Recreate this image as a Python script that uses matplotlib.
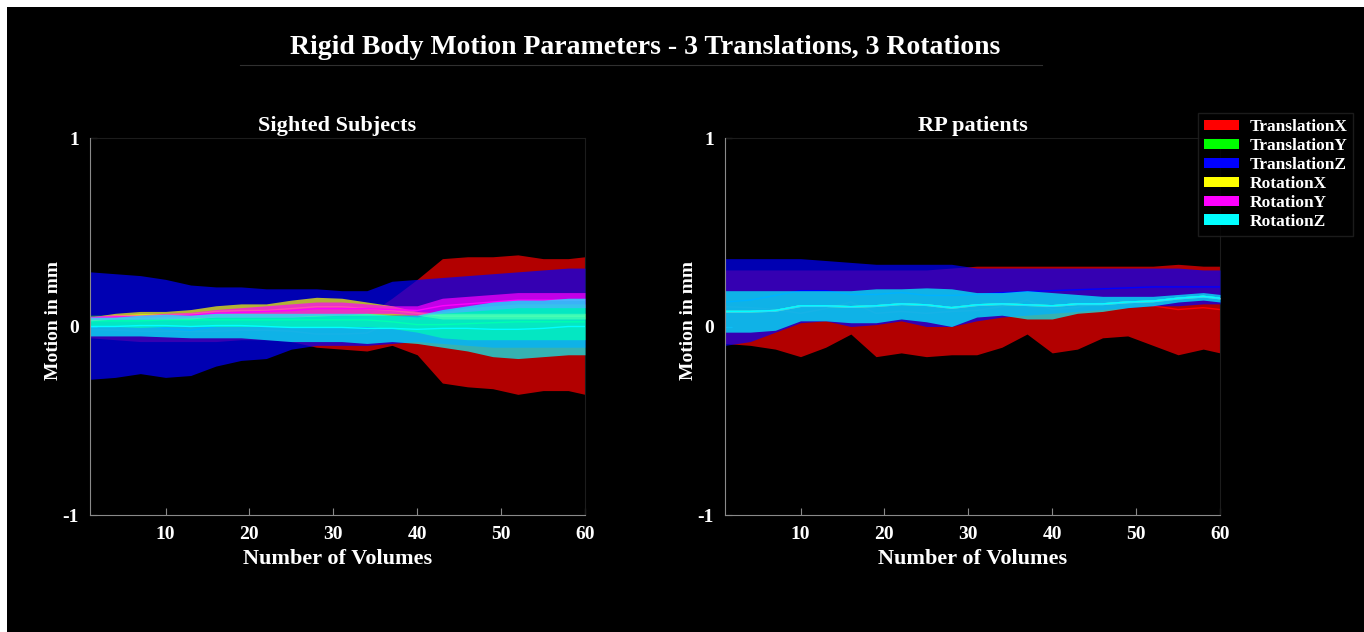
import matplotlib
matplotlib.use("Agg")
import matplotlib.pyplot as plt
from matplotlib.patches import Patch, Rectangle
from matplotlib.lines import Line2D

vols = [1, 4, 7, 10, 13, 16, 19, 22, 25, 28, 31, 34, 37, 40, 43, 46, 49, 52, 55, 58, 60]

param_names = ["TranslationX", "TranslationY", "TranslationZ",
               "RotationX", "RotationY", "RotationZ"]
param_colors = ["#ff0000", "#00ff00", "#0000ff", "#ffff00", "#ff00ff", "#00ffff"]
# order the bands were layered in (TranslationZ sits under TranslationY)
draw_order = [0, 2, 1, 3, 4, 5]

# Sighted subjects: mean and sd per volume
sighted_tx_mean = [-0.015, -0.02, -0.025, -0.025, -0.025, -0.025, -0.02, -0.02, -0.025, -0.04, -0.04,
                   -0.035, 0.025, 0.05, 0.03, 0.025, 0.02, 0.01, 0.01, 0.01, 0.005]
sighted_tx_sd = [0.045, 0.05, 0.055, 0.055, 0.055, 0.055, 0.05, 0.05, 0.055, 0.07, 0.08,
                 0.095, 0.125, 0.2, 0.33, 0.345, 0.35, 0.37, 0.35, 0.35, 0.365]
sighted_ty_mean = [0.03, 0.03, 0.03, 0.035, 0.035, 0.035, 0.035, 0.035, 0.035, 0.035, 0.035,
                   0.035, 0.025, 0.01, 0.01, 0.015, 0.02, 0.025, 0.025, 0.025, 0.025]
sighted_ty_sd = [0.03, 0.03, 0.035, 0.035, 0.035, 0.035, 0.035, 0.035, 0.035, 0.035, 0.035,
                 0.035, 0.035, 0.04, 0.07, 0.085, 0.09, 0.095, 0.095, 0.095, 0.095]
sighted_tz_mean = [0.005, 0.005, 0.01, -0.01, -0.02, 0.0, 0.015, 0.015, 0.04, 0.05, 0.045,
                   0.045, 0.075, 0.085, 0.085, 0.085, 0.085, 0.09, 0.095, 0.10, 0.10]
sighted_tz_sd = [0.285, 0.275, 0.26, 0.26, 0.24, 0.21, 0.195, 0.185, 0.16, 0.15, 0.145,
                 0.145, 0.165, 0.165, 0.175, 0.185, 0.195, 0.20, 0.205, 0.21, 0.21]
sighted_rx_mean = [0.04, 0.055, 0.06, 0.06, 0.065, 0.08, 0.085, 0.085, 0.095, 0.105, 0.105,
                   0.095, 0.085, 0.07, 0.055, 0.055, 0.055, 0.055, 0.055, 0.055, 0.055]
sighted_rx_sd = [0.01, 0.015, 0.02, 0.02, 0.025, 0.03, 0.035, 0.035, 0.045, 0.05, 0.045,
                 0.035, 0.025, 0.01, 0.015, 0.015, 0.015, 0.015, 0.015, 0.015, 0.015]
sighted_ry_mean = [0.045, 0.05, 0.05, 0.055, 0.06, 0.07, 0.075, 0.08, 0.085, 0.095, 0.095,
                   0.095, 0.09, 0.085, 0.11, 0.12, 0.13, 0.14, 0.14, 0.14, 0.14]
sighted_ry_sd = [0.01, 0.012, 0.012, 0.015, 0.015, 0.02, 0.025, 0.03, 0.035, 0.035, 0.035,
                 0.025, 0.02, 0.025, 0.04, 0.04, 0.04, 0.04, 0.04, 0.04, 0.04]
sighted_rz_mean = [0.0, 0.0, 0.005, 0.005, 0.0, 0.005, 0.005, 0.0, -0.005, -0.005, -0.005,
                   -0.01, -0.01, -0.015, -0.01, -0.01, -0.015, -0.015, -0.01, 0.0, 0.0]
sighted_rz_sd = [0.05, 0.05, 0.055, 0.06, 0.06, 0.065, 0.065, 0.07, 0.075, 0.075, 0.075,
                 0.08, 0.07, 0.075, 0.10, 0.12, 0.145, 0.155, 0.15, 0.15, 0.15]

# RP patients: mean and sd per volume
rp_tx_mean = [0.105, 0.10, 0.09, 0.07, 0.095, 0.13, 0.07, 0.08, 0.07, 0.08, 0.085,
              0.105, 0.14, 0.09, 0.10, 0.13, 0.135, 0.11, 0.09, 0.10, 0.09]
rp_tx_sd = [0.195, 0.20, 0.21, 0.23, 0.205, 0.17, 0.23, 0.22, 0.23, 0.23, 0.235,
            0.215, 0.18, 0.23, 0.22, 0.19, 0.185, 0.21, 0.24, 0.22, 0.23]
rp_ty_mean = [0.08, 0.08, 0.085, 0.11, 0.11, 0.105, 0.11, 0.12, 0.115, 0.10, 0.115,
              0.12, 0.115, 0.11, 0.12, 0.12, 0.13, 0.135, 0.15, 0.16, 0.15]
rp_ty_sd = [0.004, 0.004, 0.004, 0.004, 0.004, 0.004, 0.004, 0.004, 0.004, 0.004, 0.004,
            0.004, 0.004, 0.004, 0.004, 0.004, 0.004, 0.004, 0.004, 0.004, 0.004]
rp_tz_mean = [0.13, 0.14, 0.165, 0.19, 0.19, 0.17, 0.17, 0.18, 0.165, 0.165, 0.17,
              0.18, 0.185, 0.19, 0.195, 0.20, 0.205, 0.21, 0.21, 0.21, 0.21]
rp_tz_sd = [0.23, 0.22, 0.195, 0.17, 0.16, 0.17, 0.16, 0.15, 0.165, 0.165, 0.14,
            0.13, 0.125, 0.12, 0.115, 0.11, 0.105, 0.10, 0.10, 0.09, 0.09]
rp_rx_mean = [0.08, 0.08, 0.085, 0.11, 0.11, 0.105, 0.11, 0.12, 0.115, 0.10, 0.115,
              0.12, 0.115, 0.11, 0.12, 0.12, 0.13, 0.135, 0.15, 0.16, 0.15]
rp_rx_sd = [0.004, 0.004, 0.004, 0.004, 0.004, 0.004, 0.004, 0.004, 0.004, 0.004, 0.004,
            0.004, 0.004, 0.004, 0.004, 0.004, 0.004, 0.004, 0.004, 0.004, 0.004]
rp_ry_mean = [0.08, 0.08, 0.085, 0.11, 0.11, 0.105, 0.11, 0.12, 0.115, 0.10, 0.115,
              0.12, 0.115, 0.11, 0.12, 0.12, 0.13, 0.135, 0.15, 0.16, 0.15]
rp_ry_sd = [0.004, 0.004, 0.004, 0.004, 0.004, 0.004, 0.004, 0.004, 0.004, 0.004, 0.004,
            0.004, 0.004, 0.004, 0.004, 0.004, 0.004, 0.004, 0.004, 0.004, 0.004]
rp_rz_mean = [0.08, 0.08, 0.085, 0.11, 0.11, 0.105, 0.11, 0.12, 0.115, 0.10, 0.115,
              0.12, 0.115, 0.11, 0.12, 0.12, 0.13, 0.135, 0.15, 0.16, 0.15]
rp_rz_sd = [0.11, 0.11, 0.105, 0.08, 0.08, 0.085, 0.09, 0.08, 0.09, 0.10, 0.065,
            0.06, 0.075, 0.07, 0.05, 0.04, 0.03, 0.025, 0.02, 0.02, 0.02]

sighted = [(sighted_tx_mean, sighted_tx_sd), (sighted_ty_mean, sighted_ty_sd),
           (sighted_tz_mean, sighted_tz_sd), (sighted_rx_mean, sighted_rx_sd),
           (sighted_ry_mean, sighted_ry_sd), (sighted_rz_mean, sighted_rz_sd)]
rp = [(rp_tx_mean, rp_tx_sd), (rp_ty_mean, rp_ty_sd), (rp_tz_mean, rp_tz_sd),
      (rp_rx_mean, rp_rx_sd), (rp_ry_mean, rp_ry_sd), (rp_rz_mean, rp_rz_sd)]

FONT = "Liberation Serif"
W, H = 1364, 632

fig = plt.figure(figsize=(W / 100, H / 100), dpi=100, facecolor="white")
# black canvas, thin white margin top/left
fig.patches.append(Rectangle((7 / W, 0), 1 - 7 / W, 1 - 7 / H, transform=fig.transFigure,
                             facecolor="black", edgecolor="none", zorder=-10))


def shaded_panel(ax, data, title):
    ax.set_facecolor("black")
    # band then mean line for each parameter, later ones drawn on top
    for i, k in enumerate(draw_order):
        m, s = data[k]
        col = param_colors[k]
        lo = [a - b for a, b in zip(m, s)]
        hi = [a + b for a, b in zip(m, s)]
        ax.fill_between(vols, lo, hi, color=col, alpha=0.7, linewidth=0, zorder=1 + 2 * i)
        ax.plot(vols, m, color=col, lw=1, zorder=2 + 2 * i)
    ax.set_xlim(1, 60)
    ax.set_ylim(-1, 1)
    ax.set_xticks([10, 20, 30, 40, 50, 60])
    ax.set_yticks([-1, 0, 1])
    ax.set_yticklabels(["-1", "0", "1"])
    for side in ("left", "bottom"):
        ax.spines[side].set_color("#8a8a8a")
        ax.spines[side].set_zorder(20)
    for side in ("top", "right"):
        ax.spines[side].set_color("#1c1c1c")
    ax.tick_params(direction="in", length=5, color="#8a8a8a", labelcolor="white",
                   labelsize=14, pad=8)
    for lab in ax.get_xticklabels() + ax.get_yticklabels():
        lab.set_fontfamily(FONT)
        lab.set_fontweight("bold")
    ax.set_title(title, color="white", fontsize=16, fontweight="bold", family=FONT, pad=5)
    ax.set_xlabel("Number of Volumes", color="white", fontsize=16, fontweight="bold",
                  family=FONT, labelpad=4)
    ax.set_ylabel("Motion in mm", color="white", fontsize=14, fontweight="bold", family=FONT)
    ax.yaxis.set_label_coords(-0.056, 0.517)


ax1 = fig.add_axes([90 / W, 1 - 515 / H, 495 / W, 377 / H])
ax2 = fig.add_axes([725 / W, 1 - 515 / H, 495 / W, 377 / H])
shaded_panel(ax1, sighted, "Sighted Subjects")
shaded_panel(ax2, rp, "RP patients")

fig.text(645 / W, 1 - 48 / H, "Rigid Body Motion Parameters - 3 Translations, 3 Rotations",
         color="white", fontsize=20, fontweight="bold", family=FONT, ha="center", va="center")
fig.add_artist(Line2D([240 / W, 1042 / W], [1 - 65 / H, 1 - 65 / H], transform=fig.transFigure,
                      color="#303030", lw=0.8))

handles = [Patch(facecolor=c, edgecolor="none", label=n) for n, c in zip(param_names, param_colors)]
leg = fig.legend(handles=handles, loc="upper left", bbox_to_anchor=(1198 / W, 1 - 113 / H),
                 frameon=True, facecolor="black", edgecolor="#222222", fancybox=False,
                 prop={"family": FONT, "weight": "bold", "size": 12.5},
                 handlelength=2.0, handleheight=0.55, labelspacing=0.17, borderpad=0.35,
                 handletextpad=0.6, borderaxespad=0)
for t in leg.get_texts():
    t.set_color("white")

fig.savefig("out.png", dpi=100, facecolor=fig.get_facecolor())
